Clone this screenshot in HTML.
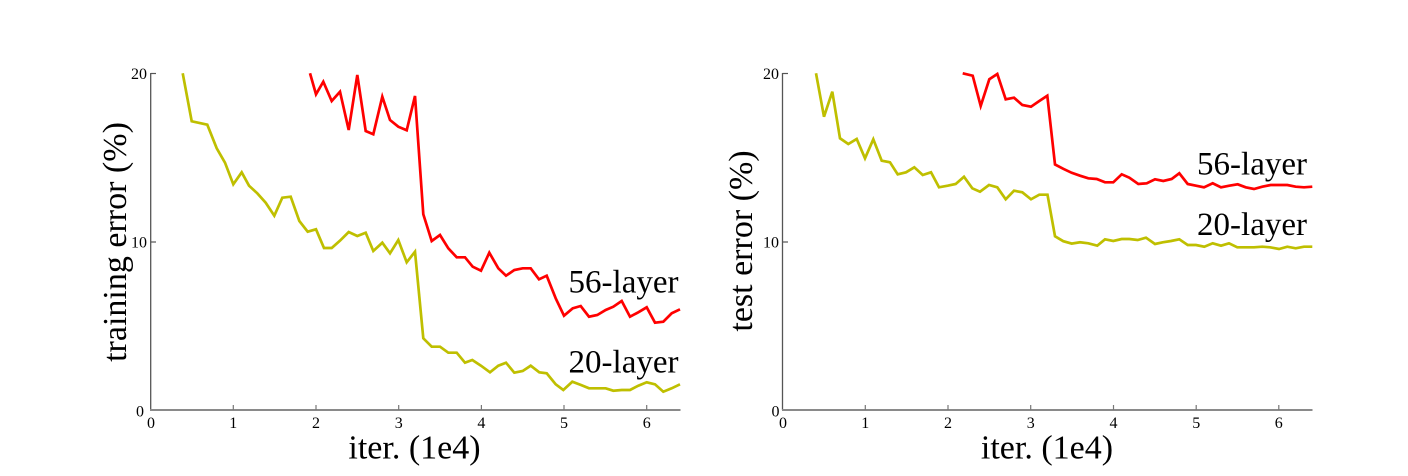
<!DOCTYPE html>
<html>
<head>
<meta charset="utf-8">
<style>
html,body{margin:0;padding:0;background:#fff;}
svg{display:block;}
text{font-family:"Liberation Serif","Times New Roman",serif;fill:#000;}
</style>
</head>
<body>
<svg width="1408" height="476" viewBox="0 0 1408 476" xmlns="http://www.w3.org/2000/svg">
<rect x="0" y="0" width="1408" height="476" fill="#fff"/>

<!-- ===== LEFT PANEL ===== -->
<!-- axes -->
<line x1="150.7" y1="73" x2="150.7" y2="410" stroke="#555" stroke-width="1.3"/>
<line x1="150" y1="410" x2="680.5" y2="410" stroke="#8a8a8a" stroke-width="2"/>
<!-- y ticks -->
<g stroke="#555" stroke-width="1.2">
<line x1="150.7" y1="73.5" x2="156" y2="73.5"/>
<line x1="150.7" y1="242" x2="156" y2="242"/>
</g>
<!-- x ticks -->
<g stroke="#777" stroke-width="1.2">
<line x1="233.3" y1="410" x2="233.3" y2="405"/>
<line x1="316" y1="410" x2="316" y2="405"/>
<line x1="398.7" y1="410" x2="398.7" y2="405"/>
<line x1="481.4" y1="410" x2="481.4" y2="405"/>
<line x1="564" y1="410" x2="564" y2="405"/>
<line x1="646.7" y1="410" x2="646.7" y2="405"/>
</g>
<!-- y tick labels -->
<g font-size="16" text-anchor="end">
<text x="147" y="79">20</text>
<text x="147" y="247.5">10</text>
<text x="144" y="416.5">0</text>
</g>
<!-- x tick labels -->
<g font-size="16" text-anchor="middle">
<text x="151" y="428">0</text>
<text x="233.3" y="428">1</text>
<text x="316" y="428">2</text>
<text x="398.7" y="428">3</text>
<text x="481.4" y="428">4</text>
<text x="564" y="428">5</text>
<text x="646.7" y="428">6</text>
</g>
<text x="414.5" y="458.5" font-size="34" text-anchor="middle">iter. (1e4)</text>
<text transform="translate(126,242) rotate(-90)" font-size="34" text-anchor="middle">training error (%)</text>

<!-- series -->
<polyline fill="none" stroke="#bfbf00" stroke-width="2.7" stroke-linejoin="miter" points="182.7,73.3 191.7,121.3 207.3,124.7 216.7,148.3 225,162.7 233.3,184.3 241.7,172.3 249,185.7 257.3,193.3 265.7,202.7 274.3,215.7 282.3,197.7 290.7,196.7 299.3,221 307.7,231.7 316,229.3 324,248 331.7,248 340,240.7 348.7,232 357.3,236 365.7,232.7 373.3,251 382.3,242.7 390,253.3 398.3,240 406.7,262.3 415,251.7 423.3,338.3 431.7,346.7 440,346.7 448.3,352.7 456.7,352.7 465,362.7 472.3,360 481,365.7 490,372.3 498.3,365.7 506,362.7 514.3,372.7 522.7,371 530.7,365.7 539.3,372.3 546.7,373.3 555.7,384.3 563.3,390 572.3,381.7 581,385 589,388.3 597.3,388.3 605.7,388.3 613.3,390.7 621.7,390 630,390 638.3,385.7 646.7,382.3 655,384.3 663.3,391.7 671.7,388.3 680,384.3"/>
<polyline fill="none" stroke="#ff0000" stroke-width="2.7" stroke-linejoin="miter" points="310,73.3 316,94.3 323.3,81.7 331.7,101 340,91.7 348.7,130 357.3,75 365.7,131 373.3,134.3 382.3,96.7 390,120 398.3,126.7 406.7,130.3 415,96 423.3,214.3 431.7,241 440,235 448.3,248.3 456.7,257.3 465,257.3 472.7,266.7 481,270.7 489.3,252.7 498.3,268.3 506,275.7 514.3,270 522.7,268.3 530.7,268.3 539,279.3 546.7,275.7 555.7,298.3 564,315.7 572.7,308.3 580.7,306 589,316.7 597.3,315 605.7,310 613.3,306.7 621.7,301 630,316.7 638.3,312.3 646.7,307.3 655,322.7 663.3,321.7 671.7,313.3 680,309.3"/>

<text x="678.5" y="292.5" font-size="33" text-anchor="end">56-layer</text>
<text x="678.5" y="372.5" font-size="33" text-anchor="end">20-layer</text>

<!-- ===== RIGHT PANEL ===== -->
<line x1="782.5" y1="73" x2="782.5" y2="410" stroke="#555" stroke-width="1.3"/>
<line x1="782" y1="410" x2="1312.5" y2="410" stroke="#8a8a8a" stroke-width="2"/>
<g stroke="#555" stroke-width="1.2">
<line x1="782.5" y1="73.5" x2="788" y2="73.5"/>
<line x1="782.5" y1="242" x2="788" y2="242"/>
</g>
<g stroke="#777" stroke-width="1.2">
<line x1="865.3" y1="410" x2="865.3" y2="405"/>
<line x1="948" y1="410" x2="948" y2="405"/>
<line x1="1030.7" y1="410" x2="1030.7" y2="405"/>
<line x1="1113.5" y1="410" x2="1113.5" y2="405"/>
<line x1="1196.2" y1="410" x2="1196.2" y2="405"/>
<line x1="1278.8" y1="410" x2="1278.8" y2="405"/>
</g>
<g font-size="16" text-anchor="end">
<text x="779" y="79">20</text>
<text x="779" y="247.5">10</text>
<text x="779.5" y="416.5">0</text>
</g>
<g font-size="16" text-anchor="middle">
<text x="783" y="428">0</text>
<text x="865.3" y="428">1</text>
<text x="948" y="428">2</text>
<text x="1030.7" y="428">3</text>
<text x="1113.5" y="428">4</text>
<text x="1196.2" y="428">5</text>
<text x="1278.8" y="428">6</text>
</g>
<text x="1047" y="458.5" font-size="34" text-anchor="middle">iter. (1e4)</text>
<text transform="translate(752,241) rotate(-90)" font-size="34" text-anchor="middle">test error (%)</text>

<polyline fill="none" stroke="#bfbf00" stroke-width="2.7" stroke-linejoin="miter" points="816,73.3 824,116.7 832.3,91.7 840,138.3 848.3,144 856.7,139 865,158.3 873.3,139.3 881.7,160.7 890,162.3 897.7,174.3 906,172.3 914.3,167.3 922.7,175 931,172.3 939,187.3 947.7,185.7 955.7,184 964,176.7 972.3,188.3 980,191.7 989,185 997.3,187.3 1005.7,199.3 1014,190.7 1022.3,192.3 1031,199.3 1039.3,194.7 1047.5,194.7 1055,236.3 1063.3,241.2 1071.7,243.6 1080,242.3 1088.3,243.3 1097.3,245.7 1105,239.3 1113.3,241 1121.7,239 1129.3,239 1137.7,240 1146,237.7 1155,244 1162.7,242.3 1171,241 1179.3,239.3 1187.7,245 1196,245 1204.3,246.7 1212.7,243.3 1221,245.7 1229,243.3 1237.3,247.3 1245.7,247.3 1254,247.3 1262.3,246.7 1270,247.3 1279,249 1287.3,246.7 1295.7,248.3 1304,246.7 1312.3,246.7"/>
<polyline fill="none" stroke="#ff0000" stroke-width="2.7" stroke-linejoin="miter" points="962.7,73.3 972.7,75.7 980.7,106 989.3,79.3 997.3,74 1005.7,99.3 1014,97.7 1022.3,105 1031,106.7 1039.3,101 1047.3,95.7 1055,164.5 1063.3,168.8 1071.7,172.8 1080,175.7 1088.3,178.3 1096.7,179 1105,182.3 1113.3,182.3 1121.7,174.3 1129.3,177.7 1138.3,184 1146.7,183.3 1155,179.3 1163.3,181 1171.7,179 1179.3,173.3 1187.7,184 1196,185.7 1204,187.3 1212.7,183.3 1221,187.3 1229.3,185.7 1237.7,184.3 1245.7,187.3 1254,189 1262.3,186.7 1270.7,185 1279,185 1287.3,185 1295.7,186.7 1304,187.3 1312.3,186.7"/>

<text x="1307" y="174.5" font-size="33" text-anchor="end">56-layer</text>
<text x="1307" y="235" font-size="33" text-anchor="end">20-layer</text>
</svg>
</body>
</html>
